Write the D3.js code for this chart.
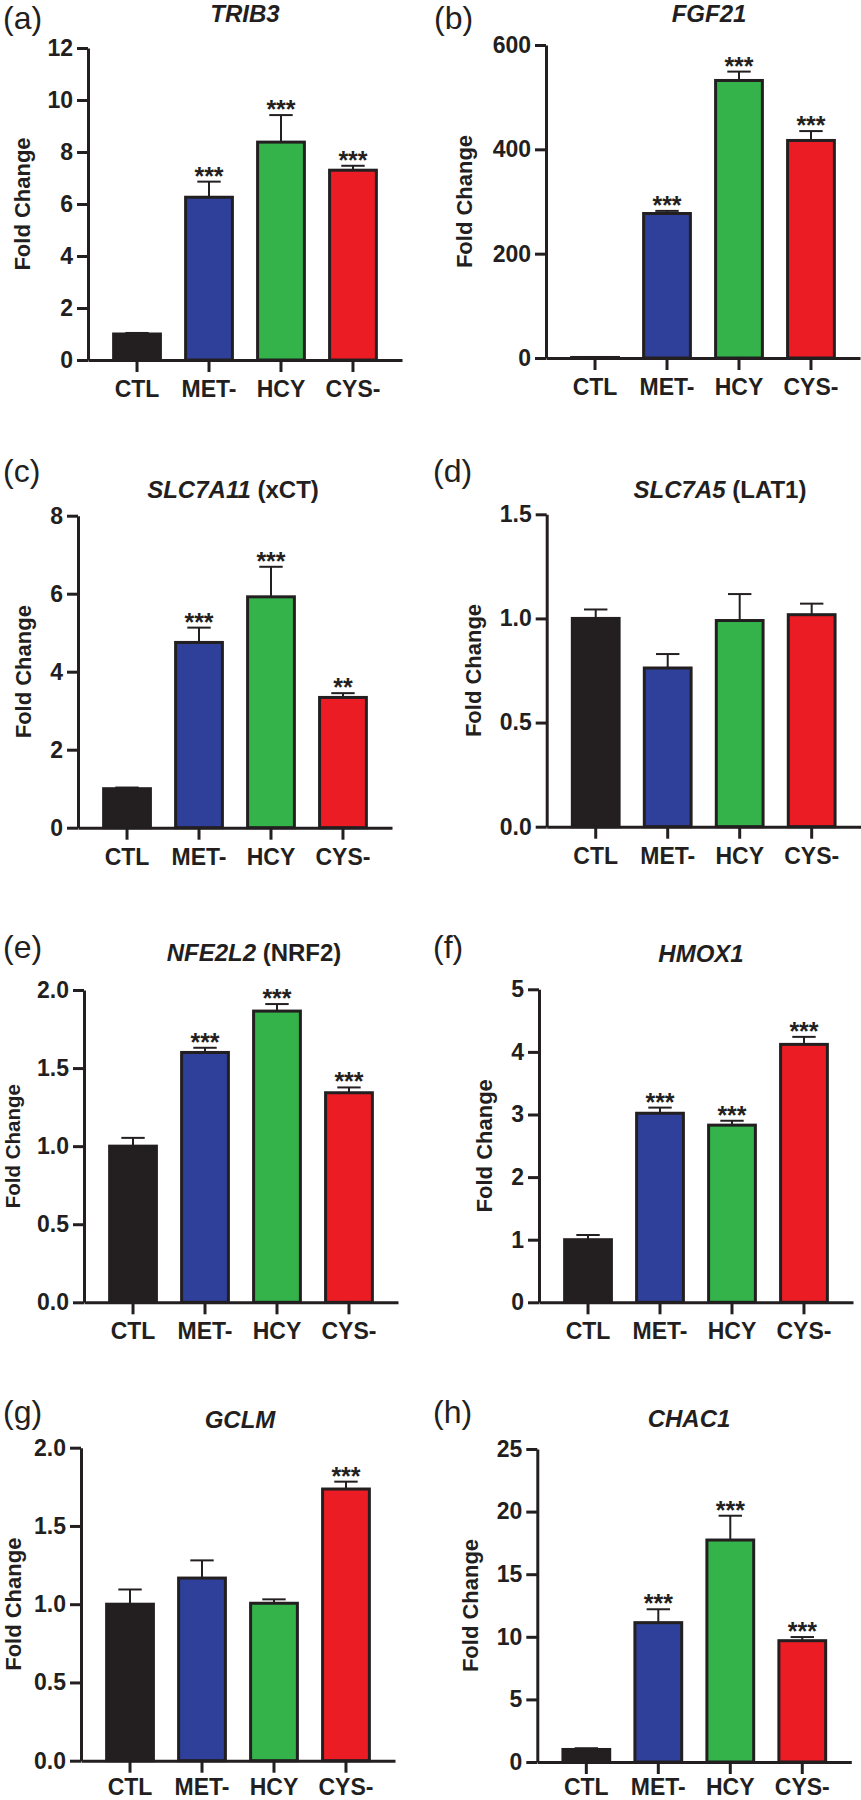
<!DOCTYPE html>
<html>
<head>
<meta charset="utf-8">
<script src="https://cdn.jsdelivr.net/npm/d3@7"></script>
<style>
  body { margin: 0; background: #fff; }
  svg { display: block; font-family: "Liberation Sans", Arial, Helvetica, sans-serif; }
</style>
</head>
<body>
<div id="chart"></div>
<script>
// groups on the x axis
const groups = ["CTL", "MET-", "HCY", "CYS-"];

// mean fold change and SEM per gene
const trib3Mean = [1.0, 6.26, 8.38, 7.30];
const trib3Err = [0.04, 0.60, 1.04, 0.17];
const trib3Sig = ["", "***", "***", "***"];

const fgf21Mean = [1, 277, 532, 417];
const fgf21Err = [0, 5, 17, 18];
const fgf21Sig = ["", "***", "***", "***"];

const slc7a11Mean = [1.0, 4.75, 5.92, 3.34];
const slc7a11Err = [0.03, 0.38, 0.77, 0.11];
const slc7a11Sig = ["", "***", "***", "**"];

const slc7a5Mean = [1.0, 0.762, 0.99, 1.018];
const slc7a5Err = [0.043, 0.067, 0.127, 0.053];
const slc7a5Sig = ["", "", "", ""];

const nfe2l2Mean = [1.0, 1.60, 1.865, 1.342];
const nfe2l2Err = [0.053, 0.03, 0.045, 0.034];
const nfe2l2Sig = ["", "***", "***", "***"];

const hmox1Mean = [1.0, 3.02, 2.83, 4.12];
const hmox1Err = [0.075, 0.09, 0.07, 0.12];
const hmox1Sig = ["", "***", "***", "***"];

const gclmMean = [1.0, 1.167, 1.006, 1.736];
const gclmErr = [0.094, 0.113, 0.025, 0.047];
const gclmSig = ["", "", "", "***"];

const chac1Mean = [1.0, 11.13, 17.73, 9.69];
const chac1Err = [0.1, 1.07, 1.94, 0.29];
const chac1Sig = ["", "***", "***", "***"];

// y axis domains and ticks
const yMax = [12, 600, 8, 1.5, 2, 5, 2, 25];
const yStep = [2, 200, 2, 0.5, 0.5, 1, 0.5, 5];
const yDecimals = [0, 0, 0, 1, 1, 0, 1, 0];

// titles: italic gene name + plain suffix
const panelLetters = ["(a)", "(b)", "(c)", "(d)", "(e)", "(f)", "(g)", "(h)"];
const geneNames = ["TRIB3", "FGF21", "SLC7A11", "SLC7A5", "NFE2L2", "HMOX1", "GCLM", "CHAC1"];
const geneSuffix = ["", "", " (xCT)", " (LAT1)", " (NRF2)", "", "", ""];

const barColors = ["#231f20", "#2e4099", "#33b34a", "#ec1c24"];
const ink = "#231f20";

// page layout for each panel (axis x, top of y axis, zero line, title pos)
const layout = [
  { ax: 88, top: 48, zero: 360, tx: 245, ty: 22, lx: 3, ly: 29, yl: 30, yf: 22, xl: 37 },
  { ax: 546, top: 45, zero: 358, tx: 709, ty: 22, lx: 434, ly: 29, yl: 472, yf: 22, xl: 37 },
  { ax: 78, top: 515.7, zero: 827.7, tx: 233, ty: 498, lx: 3, ly: 482, yl: 31, yf: 22, xl: 37 },
  { ax: 546.7, top: 514.3, zero: 826.7, tx: 720, ty: 498, lx: 433, ly: 482, yl: 481, yf: 22, xl: 37 },
  { ax: 84, top: 990, zero: 1302.3, tx: 254, ty: 961, lx: 3, ly: 958, yl: 20, yf: 20.5, xl: 37 },
  { ax: 539, top: 989.3, zero: 1302.3, tx: 701, ty: 962, lx: 433, ly: 958, yl: 492, yf: 22, xl: 37 },
  { ax: 81, top: 1447.7, zero: 1760.7, tx: 240, ty: 1428, lx: 3, ly: 1423, yl: 21, yf: 22, xl: 34 },
  { ax: 537.3, top: 1449, zero: 1762, tx: 689, ty: 1427, lx: 433, ly: 1423, yl: 478, yf: 22, xl: 33 }
];
const plotWidth = 314;

const means = [trib3Mean, fgf21Mean, slc7a11Mean, slc7a5Mean, nfe2l2Mean, hmox1Mean, gclmMean, chac1Mean];
const errs = [trib3Err, fgf21Err, slc7a11Err, slc7a5Err, nfe2l2Err, hmox1Err, gclmErr, chac1Err];
const sigs = [trib3Sig, fgf21Sig, slc7a11Sig, slc7a5Sig, nfe2l2Sig, hmox1Sig, gclmSig, chac1Sig];

const svg = d3.select("#chart")
  .append("svg")
  .attr("width", 861)
  .attr("height", 1800);

geneNames.forEach((gene, i) => {
  const L = layout[i];
  const rows = groups.map((g, j) => ({
    group: g, mean: means[i][j], err: errs[i][j], sig: sigs[i][j], color: barColors[j]
  }));

  const x = d3.scaleBand()
    .domain(groups)
    .range([L.ax, L.ax + plotWidth])
    .paddingInner(0.35)
    .paddingOuter(0.356);

  const y = d3.scaleLinear()
    .domain([0, yMax[i]])
    .range([L.zero, L.top]);

  const g = svg.append("g");

  // bars
  g.selectAll("rect.bar")
    .data(rows)
    .join("rect")
    .attr("class", "bar")
    .attr("x", d => x(d.group))
    .attr("width", x.bandwidth())
    .attr("y", d => y(d.mean))
    .attr("height", d => y(0) - y(d.mean))
    .attr("fill", d => d.color)
    .attr("stroke", ink)
    .attr("stroke-width", 3);

  // error bars (upper only)
  const eb = g.selectAll("g.err")
    .data(rows)
    .join("g")
    .attr("class", "err");
  eb.append("line")
    .attr("x1", d => x(d.group) + x.bandwidth() / 2)
    .attr("x2", d => x(d.group) + x.bandwidth() / 2)
    .attr("y1", d => y(d.mean))
    .attr("y2", d => y(d.mean + d.err))
    .attr("stroke", ink)
    .attr("stroke-width", 2);
  eb.append("line")
    .attr("x1", d => x(d.group) + x.bandwidth() * 0.25)
    .attr("x2", d => x(d.group) + x.bandwidth() * 0.75)
    .attr("y1", d => y(d.mean + d.err))
    .attr("y2", d => y(d.mean + d.err))
    .attr("stroke", ink)
    .attr("stroke-width", 2);

  // significance stars
  g.selectAll("text.sig")
    .data(rows.filter(d => d.sig))
    .join("text")
    .attr("class", "sig")
    .attr("x", d => x(d.group) + x.bandwidth() / 2)
    .attr("y", d => y(d.mean + d.err) + 3)
    .attr("text-anchor", "middle")
    .attr("font-size", 25)
    .attr("font-weight", "bold")
    .attr("fill", ink)
    .text(d => d.sig);

  // y axis
  const yAxis = g.append("g")
    .attr("transform", `translate(${L.ax},0)`)
    .call(d3.axisLeft(y)
      .tickValues(d3.range(0, yMax[i] + yStep[i] / 2, yStep[i]))
      .tickFormat(d3.format(`.${yDecimals[i]}f`))
      .tickSize(11)
      .tickSizeOuter(0)
      .tickPadding(4));

  // x axis
  const xAxis = g.append("g")
    .attr("transform", `translate(0,${L.zero})`)
    .call(d3.axisBottom(x).tickSize(12).tickSizeOuter(0));
  xAxis.selectAll("text")
    .attr("y", L.xl)
    .attr("dy", null)
    .attr("font-size", 23);

  [yAxis, xAxis].forEach(a => {
    a.select(".domain").attr("stroke", ink).attr("stroke-width", 3);
    a.selectAll(".tick line").attr("stroke", ink).attr("stroke-width", 3);
    a.selectAll(".tick text")
      .attr("fill", ink)
      .attr("font-weight", "bold")
      .attr("font-family", "'Liberation Sans', Arial, sans-serif");
  });
  yAxis.selectAll(".tick text").attr("font-size", 23);

  // y label
  g.append("text")
    .attr("transform", `translate(${L.yl},${(L.top + L.zero) / 2}) rotate(-90)`)
    .attr("text-anchor", "middle")
    .attr("font-size", L.yf)
    .attr("font-weight", "bold")
    .attr("fill", ink)
    .text("Fold Change");

  // title
  const title = g.append("text")
    .attr("x", L.tx)
    .attr("y", L.ty)
    .attr("text-anchor", "middle")
    .attr("font-size", 24)
    .attr("font-weight", "bold")
    .attr("fill", ink);
  title.append("tspan").attr("font-style", "italic").text(gene);
  if (geneSuffix[i]) title.append("tspan").text(geneSuffix[i]);

  // panel letter
  g.append("text")
    .attr("x", L.lx)
    .attr("y", L.ly)
    .attr("font-size", 32)
    .attr("fill", ink)
    .text(panelLetters[i]);
});
</script>
</body>
</html>
